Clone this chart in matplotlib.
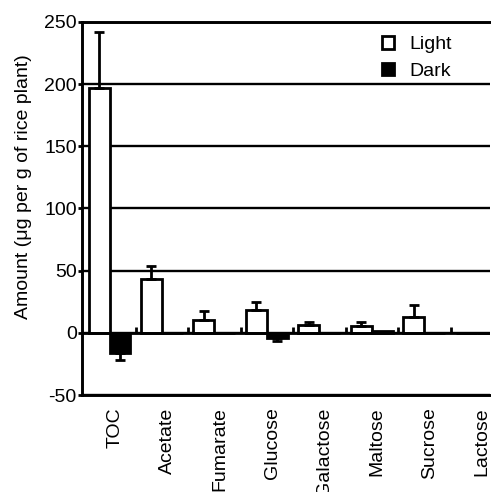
import matplotlib
matplotlib.use("Agg")
import matplotlib.pyplot as plt
import matplotlib.patches as mpatches
import numpy as np

plt.rcParams["font.family"] = ["Liberation Sans", "DejaVu Sans"]
plt.rcParams["font.size"] = 14
plt.rcParams["axes.unicode_minus"] = False

# 데이터
categories = ["TOC", "Acetate", "Fumarate", "Glucose", "Galactose", "Maltose", "Sucrose", "Lactose"]
light_vals = [197, 43, 10.5, 18, 6, 5.5, 12.5, 0]
light_err = [45, 11, 7, 7, 2.5, 3, 9.5, 0]
dark_vals = [-16, 0, 0, -4, 0, 1.2, 0, 0]
dark_err = [6, 0, 0, 2.5, 0, 0, 0, 0]
yticks = [-50, 0, 50, 100, 150, 200, 250]

LW = 2.0
x = np.arange(len(categories))
width = 0.4

fig = plt.figure(figsize=(4.91, 4.92), dpi=100, facecolor="white")
ax = fig.add_axes([82 / 491, 1 - 395 / 492, 408 / 491, 373 / 492])

# 가로 격자선 (막대 뒤)
ax.set_axisbelow(True)
ax.yaxis.grid(True, color="black", linewidth=1.7)

ax.bar(x - width / 2, light_vals, width, color="white", edgecolor="black",
       linewidth=LW, zorder=2, label="Light")
ax.bar(x + width / 2, dark_vals, width, color="black", edgecolor="black",
       linewidth=LW, zorder=2, label="Dark")

# 한쪽 방향 오차막대
light_yerr = [[0] * len(x), light_err]
dark_yerr = [[e if v < 0 else 0 for v, e in zip(dark_vals, dark_err)],
             [e if v >= 0 else 0 for v, e in zip(dark_vals, dark_err)]]
for xs, vals, yerr in [(x - width / 2, light_vals, light_yerr),
                       (x + width / 2, dark_vals, dark_yerr)]:
    mask = np.array(yerr[0]) + np.array(yerr[1]) > 0
    ax.errorbar(xs[mask], np.array(vals)[mask],
                yerr=[np.array(yerr[0])[mask], np.array(yerr[1])[mask]],
                fmt="none", ecolor="black", elinewidth=LW, capsize=3.6,
                capthick=LW, zorder=3)

# 0 기준선과 그룹 경계 눈금
ax.axhline(0, color="black", linewidth=LW, zorder=3)
ax.vlines(x[:-1] + 0.5, 0, 4.5, color="black", linewidth=LW, zorder=3)

ax.set_xlim(-0.524, 7.25)
ax.set_ylim(-50, 250)
ax.set_yticks(yticks)
ax.set_xticks(x + 0.1)
ax.set_xticklabels(categories, rotation=90)
ax.tick_params(axis="x", length=0, pad=9)
ax.tick_params(axis="y", length=3.2, width=LW, pad=0.5, direction="out")

for side in ["left", "bottom", "top"]:
    ax.spines[side].set_linewidth(2.1)
ax.spines["right"].set_visible(False)

ax.set_ylabel("Amount (μg per g of rice plant)")
ax.yaxis.set_label_coords(-0.123, 0.559)

legend_patches = [
    mpatches.Patch(facecolor="white", edgecolor="black", linewidth=LW, label="Light"),
    mpatches.Patch(facecolor="black", edgecolor="black", linewidth=LW, label="Dark"),
]
ax.legend(handles=legend_patches, loc="upper left", bbox_to_anchor=(0.735, 0.962),
          frameon=False, borderpad=0, borderaxespad=0, handlelength=0.6,
          handleheight=0.6, handletextpad=0.8, labelspacing=0.5)

fig.savefig("out.png", dpi=100, facecolor="white")
